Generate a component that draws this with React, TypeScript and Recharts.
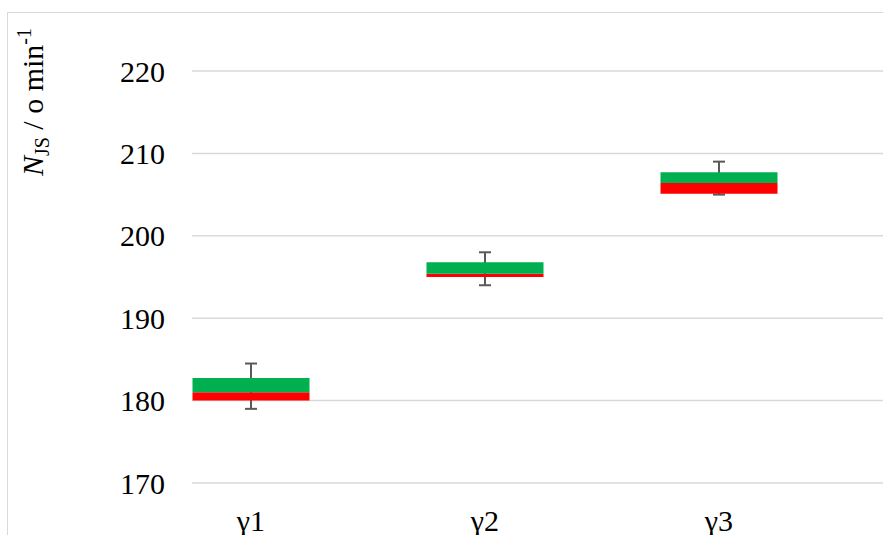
import React from 'react';
import { ComposedChart, Bar, XAxis, YAxis, CartesianGrid, ErrorBar, Label } from 'recharts';

const categories = ['γ1', 'γ2', 'γ3'];
const minimum = [179, 194, 205];
const quartile1 = [180, 195, 205.1];
const median = [181, 195.4, 206.4];
const quartile3 = [182.75, 196.8, 207.7];
const maximum = [184.5, 198, 209];
const yTicks = [170, 180, 190, 200, 210, 220];

const data = categories.map((name, i) => ({
  name,
  base: quartile1[i],
  lower: median[i] - quartile1[i],
  upper: quartile3[i] - median[i],
  whisker: [quartile1[i] - minimum[i], maximum[i] - quartile1[i]],
}));

const FONT = '"Liberation Serif", "Times New Roman", serif';

const AxisTitle = () => {
  const cx = 43;
  const cy = 102;
  return (
    <text
      x={cx}
      y={cy}
      transform={`rotate(-90, ${cx}, ${cy})`}
      textAnchor="middle"
      fontFamily={FONT}
      fontSize={30}
      fill="#000"
    >
      <tspan fontStyle="italic">N</tspan>
      <tspan fontSize={20} dy={6}>JS</tspan>
      <tspan dy={-6}> / o min</tspan>
      <tspan fontSize={20} dy={-12}>-1</tspan>
    </text>
  );
};

const chartProps = {
  width: 883,
  height: 535,
  data,
  margin: { top: 71, right: 0, bottom: 0, left: 0 },
  barCategoryGap: '25%',
};

const xAxisProps = {
  dataKey: 'name',
  height: 52,
  axisLine: false,
  tickLine: false,
  tickSize: 0,
  tickMargin: 27,
  padding: { left: -58, right: 47 },
  interval: 0 as const,
};

const yAxisProps = {
  width: 192,
  domain: [170, 220] as [number, number],
  allowDataOverflow: true,
  ticks: yTicks,
  axisLine: false,
  tickLine: false,
  tickSize: 0,
  tickMargin: 27,
};

export default function App() {
  return (
    <div style={{ position: 'absolute', left: 0, top: 0, width: 883, height: 535, overflow: 'hidden', background: '#fff' }}>
      <div
        style={{
          position: 'absolute',
          left: 7,
          top: 12,
          width: 1000,
          height: 1000,
          borderLeft: '1.5px solid #d9d9d9',
          borderTop: '1.5px solid #d9d9d9',
        }}
      />
      {/* layer 1: grid, axes and whiskers */}
      <div style={{ position: 'absolute', left: 0, top: 0 }}>
        <ComposedChart {...chartProps}>
          <CartesianGrid vertical={false} stroke="#d9d9d9" strokeWidth={1.5} />
          <XAxis {...xAxisProps} tick={{ fontFamily: FONT, fontSize: 30, fill: '#000' }} />
          <YAxis {...yAxisProps} tick={{ fontFamily: FONT, fontSize: 30, fill: '#000' }}>
            <Label content={<AxisTitle />} />
          </YAxis>
          <Bar dataKey="base" stackId="box" fill="transparent" isAnimationActive={false}>
            <ErrorBar dataKey="whisker" direction="y" width={6} stroke="#595959" strokeWidth={2} />
          </Bar>
          <Bar dataKey="lower" stackId="box" fill="transparent" isAnimationActive={false} />
          <Bar dataKey="upper" stackId="box" fill="transparent" isAnimationActive={false} />
        </ComposedChart>
      </div>
      {/* layer 2: boxes drawn over the whiskers */}
      <div style={{ position: 'absolute', left: 0, top: 0 }}>
        <ComposedChart {...chartProps}>
          <XAxis {...xAxisProps} tick={false} />
          <YAxis {...yAxisProps} tick={false} />
          <Bar dataKey="base" stackId="box" fill="transparent" isAnimationActive={false} />
          <Bar dataKey="lower" stackId="box" fill="#ff0000" isAnimationActive={false} />
          <Bar dataKey="upper" stackId="box" fill="#00b050" isAnimationActive={false} />
        </ComposedChart>
      </div>
    </div>
  );
}
